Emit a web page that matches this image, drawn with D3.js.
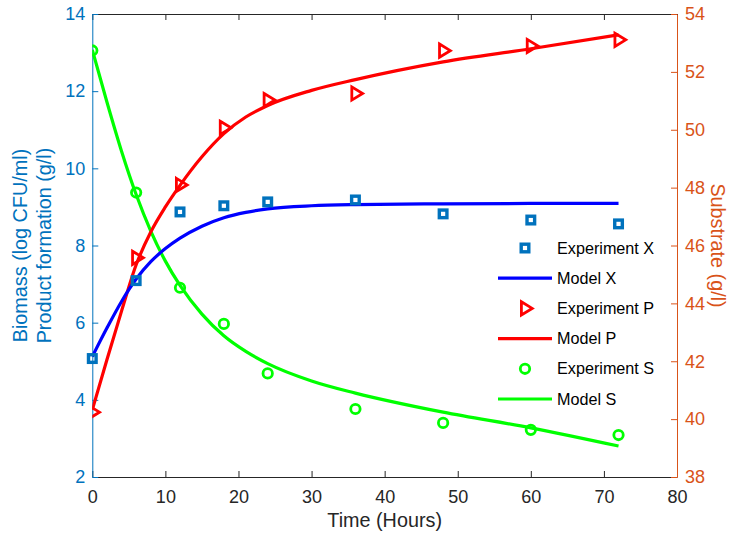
<!DOCTYPE html>
<html>
<head>
<meta charset="utf-8">
<script src="https://cdn.jsdelivr.net/npm/d3@7"></script>
<style>
  html, body { margin: 0; padding: 0; background: #fff; }
  svg { display: block; font-family: "Liberation Sans", Arial, Helvetica, sans-serif; }
</style>
</head>
<body>
<svg id="chart" width="732" height="536"></svg>
<script>
// Sampling times of the fermentation experiment (hours)
const timeExp = [0, 6, 12, 18, 24, 36, 48, 60, 72];
// Measured biomass (log CFU/ml), product (g/l) and substrate (g/l)
const expX = [5.07, 7.09, 8.87, 9.03, 9.13, 9.18, 8.82, 8.66, 8.56];
const expP = [3.68, 7.68, 9.57, 11.05, 11.77, 11.94, 13.05, 13.17, 13.33];
const expS = [52.74, 47.83, 44.54, 43.29, 41.58, 40.35, 39.87, 39.63, 39.45];

// Model predictions
const timeModel = [0, 2, 4, 6, 8, 10, 12, 15, 18, 21, 24, 30, 36, 48, 60, 72];
const modelX = [5.12, 5.86, 6.55, 7.13, 7.58, 7.92, 8.19, 8.5, 8.72, 8.86, 8.95, 9.03, 9.06, 9.08, 9.09, 9.09];
const modelP = [3.74, 5.04, 6.3, 7.5, 8.35, 9.0, 9.56, 10.3, 10.9, 11.33, 11.63, 12.02, 12.3, 12.76, 13.1, 13.46];
const modelS = [52.76, 50.96, 49.26, 47.76, 46.5, 45.46, 44.62, 43.63, 42.88, 42.34, 41.92, 41.32, 40.9, 40.24, 39.7, 39.07];

// Axis ticks
const xTicks = [0, 10, 20, 30, 40, 50, 60, 70, 80];
const leftTicks = [2, 4, 6, 8, 10, 12, 14];
const rightTicks = [38, 40, 42, 44, 46, 48, 50, 52, 54];

const legendItems = [
  { label: "Experiment X", kind: "square", color: "#0072BD" },
  { label: "Model X", kind: "line", color: "#0000FF" },
  { label: "Experiment P", kind: "triangle", color: "#FF0000" },
  { label: "Model P", kind: "line", color: "#FF0000" },
  { label: "Experiment S", kind: "circle", color: "#00FF00" },
  { label: "Model S", kind: "line", color: "#00FF00" }
];

const LEFT_COLOR = "#0072BD";
const RIGHT_COLOR = "#D95319";
const AXIS_COLOR = "#262626";

const svg = d3.select("#chart");
const plot = { left: 92.3, right: 677, top: 14, bottom: 477 };

const x = d3.scaleLinear().domain([0, 80]).range([plot.left, plot.right]);
const yL = d3.scaleLinear().domain([2, 14]).range([plot.bottom, plot.top]);
const yR = d3.scaleLinear().domain([38, 54]).range([plot.bottom, plot.top]);

svg.append("rect").attr("width", 732).attr("height", 536).attr("fill", "#fff");

svg.append("defs").append("clipPath").attr("id", "plotClip")
  .append("rect")
  .attr("x", plot.left).attr("y", plot.top)
  .attr("width", plot.right - plot.left).attr("height", plot.bottom - plot.top);

// ---- axes ----
const tickFont = "18px";
const TL = 6;

// bottom
const gB = svg.append("g").attr("transform", `translate(0,${plot.bottom})`)
  .call(d3.axisBottom(x).tickValues(xTicks).tickSize(-TL).tickPadding(13).tickSizeOuter(0));
// top (ticks only)
const gT = svg.append("g").attr("transform", `translate(0,${plot.top})`)
  .call(d3.axisTop(x).tickValues(xTicks).tickSize(-TL).tickFormat("").tickSizeOuter(0));
[gB, gT].forEach(g => {
  g.select(".domain").attr("stroke", AXIS_COLOR);
  g.selectAll(".tick line").attr("stroke", AXIS_COLOR);
  g.selectAll(".tick text").attr("fill", AXIS_COLOR).style("font-size", tickFont);
});

// left
const gL = svg.append("g").attr("transform", `translate(${plot.left},0)`)
  .call(d3.axisLeft(yL).tickValues(leftTicks).tickSize(-TL).tickPadding(7).tickSizeOuter(0));
gL.select(".domain").attr("stroke", LEFT_COLOR);
gL.selectAll(".tick line").attr("stroke", LEFT_COLOR);
gL.selectAll(".tick text").attr("fill", LEFT_COLOR).style("font-size", tickFont);

// right
const gR = svg.append("g").attr("transform", `translate(${plot.right},0)`)
  .call(d3.axisRight(yR).tickValues(rightTicks).tickSize(-TL).tickPadding(8).tickSizeOuter(0));
gR.select(".domain").attr("stroke", RIGHT_COLOR);
gR.selectAll(".tick line").attr("stroke", RIGHT_COLOR);
gR.selectAll(".tick text").attr("fill", RIGHT_COLOR).style("font-size", tickFont);

svg.selectAll("g").attr("font-family", null).attr("font-size", null);

// axis titles
svg.append("text")
  .attr("x", (plot.left + plot.right) / 2).attr("y", 527)
  .attr("text-anchor", "middle").attr("fill", AXIS_COLOR)
  .style("font-size", "19.8px").text("Time (Hours)");

const leftTitle = svg.append("text")
  .attr("transform", `translate(27,${(plot.top + plot.bottom) / 2}) rotate(-90)`)
  .attr("text-anchor", "middle").attr("fill", LEFT_COLOR)
  .style("font-size", "19.8px");
leftTitle.append("tspan").attr("x", 0).attr("dy", "0").text("Biomass (log CFU/ml)");
leftTitle.append("tspan").attr("x", 0).attr("dy", "1.2em").text("Product formation (g/l)");

svg.append("text")
  .attr("transform", `translate(711,${(plot.top + plot.bottom) / 2}) rotate(90)`)
  .attr("text-anchor", "middle").attr("fill", RIGHT_COLOR)
  .style("font-size", "19.8px").text("Substrate (g/l)");

// ---- series ----
const data = (xs, ys) => xs.map((t, i) => ({ t, v: ys[i] }));

const lineL = d3.line().x(d => x(d.t)).y(d => yL(d.v)).curve(d3.curveMonotoneX);
const lineR = d3.line().x(d => x(d.t)).y(d => yR(d.v)).curve(d3.curveMonotoneX);

const clipped = svg.append("g").attr("clip-path", "url(#plotClip)");

function triPath(s) {
  return `M${-3.6 * s},${-6.6 * s}L${7.2 * s},0L${-3.6 * s},${6.6 * s}Z`;
}

// Substrate (right axis)
clipped.append("path").datum(data(timeModel, modelS))
  .attr("d", lineR).attr("fill", "none").attr("stroke", "#00FF00").attr("stroke-width", 3.2);
clipped.selectAll(".ptS").data(data(timeExp, expS)).join("circle")
  .attr("cx", d => x(d.t)).attr("cy", d => yR(d.v)).attr("r", 4.7)
  .attr("fill", "none").attr("stroke", "#00FF00").attr("stroke-width", 2.8);

// Product (left axis)
clipped.append("path").datum(data(timeModel, modelP))
  .attr("d", lineL).attr("fill", "none").attr("stroke", "#FF0000").attr("stroke-width", 3.2);
clipped.selectAll(".ptP").data(data(timeExp, expP)).join("path")
  .attr("transform", d => `translate(${x(d.t)},${yL(d.v)})`)
  .attr("d", triPath(1)).attr("fill", "none").attr("stroke", "#FF0000")
  .attr("stroke-width", 2.8).attr("stroke-linejoin", "miter");

// Biomass (left axis)
clipped.append("path").datum(data(timeModel, modelX))
  .attr("d", lineL).attr("fill", "none").attr("stroke", "#0000FF").attr("stroke-width", 3.2);
svg.selectAll(".ptX").data(data(timeExp, expX)).join("rect")
  .attr("x", d => x(d.t) - 3.8).attr("y", d => yL(d.v) - 3.8)
  .attr("width", 7.6).attr("height", 7.6)
  .attr("fill", "none").attr("stroke", "#0072BD").attr("stroke-width", 3.4);

// ---- legend ----
const legend = svg.append("g");
legendItems.forEach((it, i) => {
  const cy = 248 + i * 30.2;
  const g = legend.append("g").attr("transform", `translate(525,${cy})`);
  if (it.kind === "line") {
    g.append("line").attr("x1", -27).attr("x2", 27).attr("y1", 0).attr("y2", 0)
      .attr("stroke", it.color).attr("stroke-width", 3.2);
  } else if (it.kind === "square") {
    g.append("rect").attr("x", -3.8).attr("y", -3.8).attr("width", 7.6).attr("height", 7.6)
      .attr("fill", "none").attr("stroke", it.color).attr("stroke-width", 3.4);
  } else if (it.kind === "triangle") {
    g.append("path").attr("d", triPath(1)).attr("fill", "none")
      .attr("stroke", it.color).attr("stroke-width", 2.8);
  } else {
    g.append("circle").attr("r", 4.7).attr("fill", "none")
      .attr("stroke", it.color).attr("stroke-width", 2.8);
  }
  g.append("text").attr("x", 32).attr("y", 0).attr("dy", "0.35em")
    .attr("fill", "#000").style("font-size", "16.2px").text(it.label);
});
</script>
</body>
</html>
